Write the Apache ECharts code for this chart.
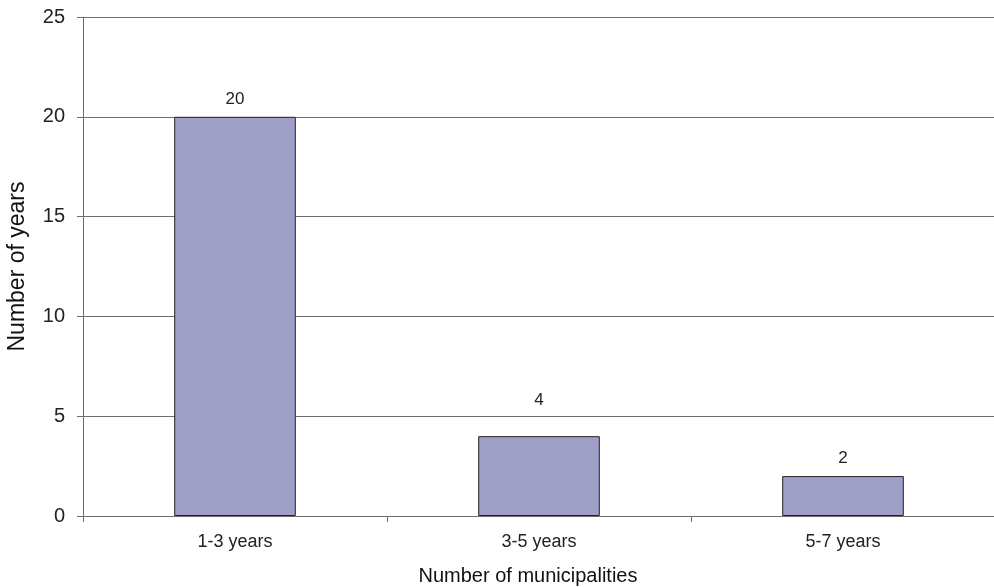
<!DOCTYPE html>
<html>
<head>
<meta charset="utf-8">
<script src="https://cdn.jsdelivr.net/npm/echarts@6/dist/echarts.min.js"></script>
<style>
  html, body { margin: 0; padding: 0; background: #fff; }
  #chart { width: 994px; height: 587px; }
</style>
</head>
<body>
<div id="chart"></div>
<script>
// Duration bands and the count in each
const categories = ['1-3 years', '3-5 years', '5-7 years'];
const values = [20, 4, 2];
const yTicks = { min: 0, max: 25, interval: 5 };

const chart = echarts.init(document.getElementById('chart'), null, { renderer: 'canvas' });
const font = 'Liberation Sans, Arial, Helvetica, sans-serif';

// The "4" label sits higher so it clears the 5 gridline
const barData = values.map((v, i) => (
  i === 1 ? { value: v, label: { distance: 27 } } : { value: v }
));

chart.setOption({
  animation: false,
  grid: { left: 83, right: -1, top: 17, bottom: 71, outerBoundsMode: 'none', containLabel: false },
  xAxis: {
    type: 'category',
    data: categories,
    name: 'Number of municipalities',
    nameLocation: 'middle',
    nameGap: 50,
    nameTextStyle: { fontFamily: font, fontSize: 20, color: '#111', padding: [0, 22, 0, 0] },
    axisLine: { lineStyle: { color: '#6e6e6e', width: 1 } },
    axisTick: { show: true, length: 6, lineStyle: { color: '#6e6e6e' } },
    axisLabel: { fontFamily: font, fontSize: 18, color: '#222', margin: 17 },
    splitLine: { show: false }
  },
  yAxis: {
    type: 'value',
    min: yTicks.min,
    max: yTicks.max,
    interval: yTicks.interval,
    name: 'Number of years',
    nameLocation: 'middle',
    nameGap: 54,
    nameTextStyle: { fontFamily: font, fontSize: 23, color: '#111' },
    axisLine: { show: true, lineStyle: { color: '#6e6e6e', width: 1 } },
    axisTick: { show: true, length: 6, lineStyle: { color: '#6e6e6e' } },
    axisLabel: { fontFamily: font, fontSize: 20, color: '#222', margin: 18 },
    splitLine: { show: true, lineStyle: { color: '#6e6e6e', width: 1 } }
  },
  series: [{
    type: 'bar',
    data: barData,
    barWidth: '40%',
    itemStyle: { color: '#a09fc8', borderColor: '#222', borderWidth: 1 },
    label: {
      show: true,
      position: 'top',
      distance: 9,
      fontFamily: font,
      fontSize: 17,
      color: '#222'
    }
  }]
});
</script>
</body>
</html>
